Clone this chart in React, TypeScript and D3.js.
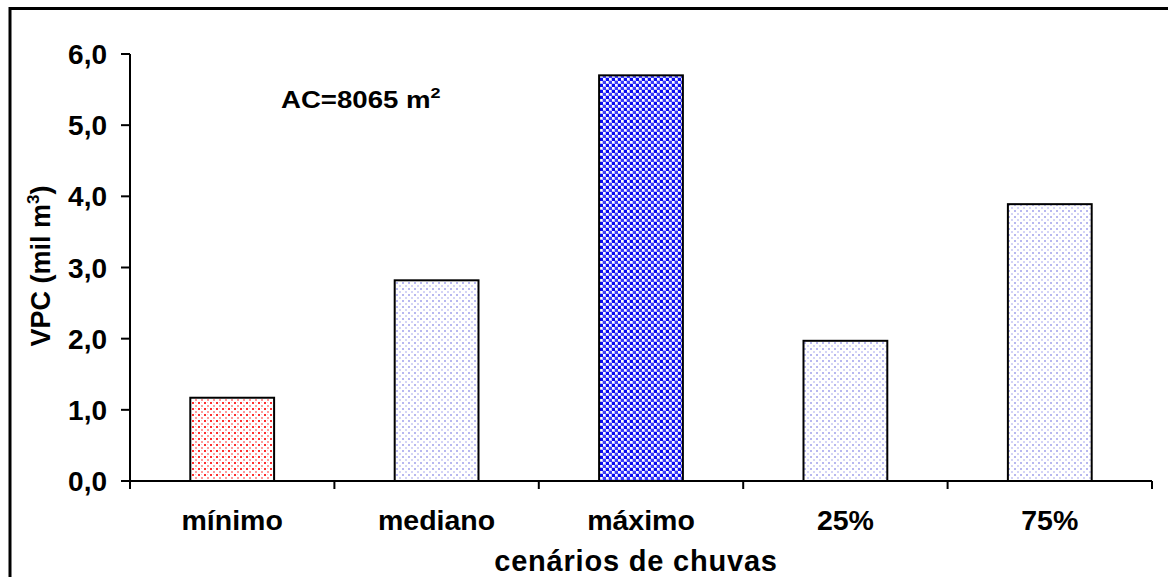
import React from "react";
import * as d3 from "d3";

const categories = ["mínimo", "mediano", "máximo", "25%", "75%"];
const values = [1.17, 2.82, 5.7, 1.97, 3.89];
const patterns = ["pRed", "pLight", "pBlue", "pLight", "pLight"];
const yTicks = [0, 1, 2, 3, 4, 5, 6];

export default function App() {
  const W = 1168, H = 577;
  const left = 130, right = 1152, top = 54, bottom = 481;
  const x = d3.scaleBand<string>().domain(categories).range([left, right]).paddingInner(0.59).paddingOuter(0.295);
  const y = d3.scaleLinear().domain([0, 6]).range([bottom, top]);
  const step = (right - left) / categories.length;
  const font = "'Liberation Sans', Arial, sans-serif";
  return (
    <svg width={W} height={H} style={{ position: "absolute", left: 0, top: 0, background: "#fff" }}>
      <defs>
        <pattern id="pRed" width="6" height="6" patternUnits="userSpaceOnUse">
          <rect width="6" height="6" fill="#fff" />
          <rect x="0" y="0" width="2" height="2" fill="#ff3030" />
          <rect x="3" y="3" width="2" height="2" fill="#ff9a9a" />
          <rect x="3" y="0" width="1" height="1" fill="#ffc8c8" />
        </pattern>
        <pattern id="pLight" width="6" height="6" patternUnits="userSpaceOnUse">
          <rect width="6" height="6" fill="#fff" />
          <rect x="0" y="0" width="2" height="2" fill="#b8b8f0" />
          <rect x="3" y="3" width="2" height="2" fill="#d4d4f6" />
        </pattern>
        <pattern id="pBlue" width="6" height="6" patternUnits="userSpaceOnUse">
          <rect width="6" height="6" fill="#b8b8ff" />
          <rect x="0" y="0" width="3" height="3" fill="#0a0af0" />
          <rect x="3" y="3" width="3" height="3" fill="#3c3cf8" />
          <rect x="3" y="0" width="2" height="2" fill="#ffffff" />
          <rect x="0" y="3" width="2" height="2" fill="#ffffff" />
        </pattern>
      </defs>
      <rect x={10} y={8.5} width={W + 10} height={H + 10} fill="none" stroke="#000" strokeWidth={3} />
      {categories.map((c, i) => (
        <rect key={c} x={x(c)} y={y(values[i])} width={x.bandwidth()} height={bottom - y(values[i])}
          fill={`url(#${patterns[i]})`} stroke="#000" strokeWidth={2} />
      ))}
      <line x1={left} y1={top} x2={left} y2={bottom} stroke="#000" strokeWidth={2} />
      <line x1={left - 9} y1={bottom} x2={right} y2={bottom} stroke="#000" strokeWidth={2} />
      {yTicks.map(t => (
        <g key={t}>
          <line x1={left - 9} x2={left} y1={y(t)} y2={y(t)} stroke="#000" strokeWidth={2} />
          <text x={107} y={y(t) + 10} textAnchor="end" fontFamily={font} fontWeight="bold" fontSize={28}>
            {t.toFixed(1).replace(".", ",")}
          </text>
        </g>
      ))}
      {d3.range(categories.length + 1).map(i => (
        <line key={i} x1={left + i * step} x2={left + i * step} y1={bottom} y2={bottom + 8} stroke="#000" strokeWidth={2} />
      ))}
      {categories.map(c => (
        <text key={c} x={x(c)! + x.bandwidth() / 2} y={530} textAnchor="middle" fontFamily={font} fontWeight="bold" fontSize={28.5}>
          {c}
        </text>
      ))}
      <text x={636} y={571} textAnchor="middle" fontFamily={font} fontWeight="bold" fontSize={29} letterSpacing={0.8}>
        cenários de chuvas
      </text>
      <text transform={`translate(50,266) rotate(-90)`} textAnchor="middle" fontFamily={font} fontWeight="bold" fontSize={27}>
        VPC (mil m<tspan dy={-11} fontSize={17}>3</tspan><tspan dy={11}>)</tspan>
      </text>
      <g transform="translate(281,108) scale(1.2,1)">
        <text x={0} y={0} fontFamily={font} fontWeight="bold" fontSize={23}>
          AC=8065 m<tspan dy={-10} fontSize={15}>2</tspan>
        </text>
      </g>
    </svg>
  );
}
